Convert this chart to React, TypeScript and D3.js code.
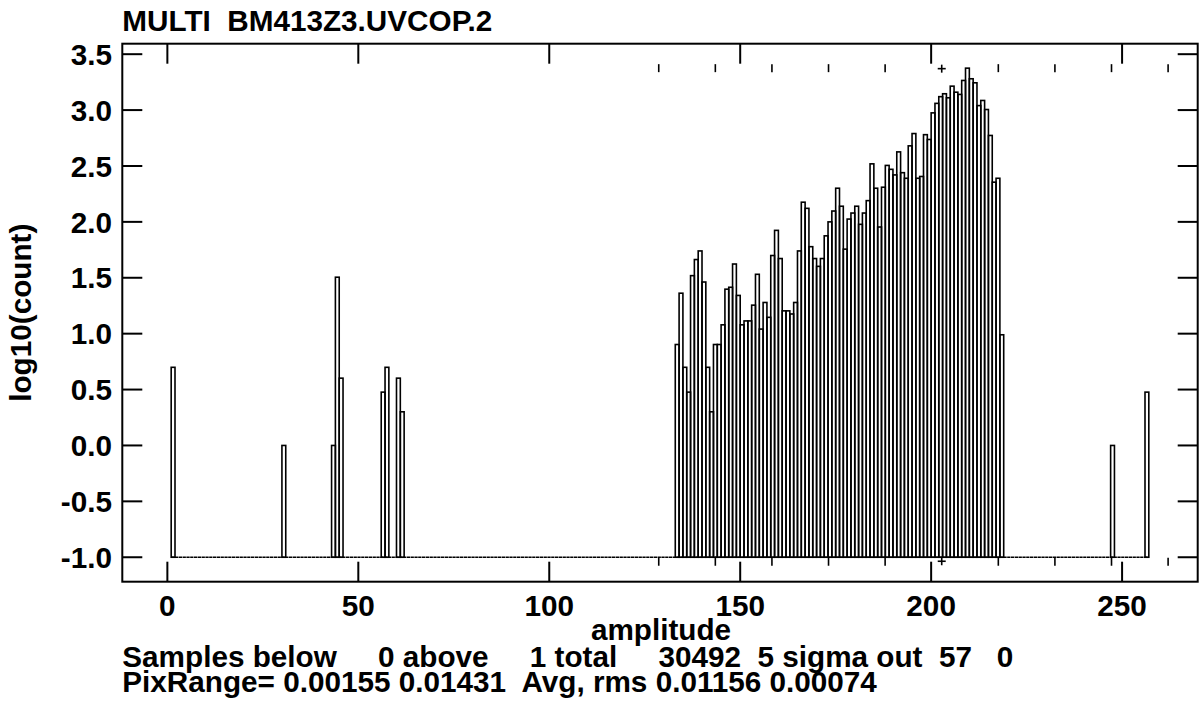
import React from "react";
import * as d3 from "d3";

// ---- data ----
const binIndex = [
  1, 30, 43, 44, 45, 56, 57, 60, 61,
  133, 134, 135, 136, 137, 138, 139, 140, 141, 142, 143, 144, 145, 146, 147, 148, 149,
  150, 151, 152, 153, 154, 155, 156, 157, 158, 159, 160, 161, 162, 163, 164, 165, 166,
  167, 168, 169, 170, 171, 172, 173, 174, 175, 176, 177, 178, 179, 180, 181, 182, 183,
  184, 185, 186, 187, 188, 189, 190, 191, 192, 193, 194, 195, 196, 197, 198, 199, 200,
  201, 202, 203, 204, 205, 206, 207, 208, 209, 210, 211, 212, 213, 214, 215, 216, 217,
  218, 247, 256,
];
const logCount = [
  0.699, 0.0, 0.0, 1.505, 0.602, 0.477, 0.699, 0.602, 0.301,
  0.903, 1.362, 0.699, 0.477, 1.519, 1.663, 1.74, 1.462, 0.699, 0.301, 0.903, 0.903, 1.079, 1.398, 1.415, 1.623, 1.342,
  1.079, 1.114, 1.114, 1.255, 1.531, 1.041, 1.279, 1.146, 1.699, 1.924, 1.672, 1.204, 1.204, 1.176, 1.279, 1.74, 2.176,
  2.121, 1.778, 1.672, 1.602, 1.672, 1.875, 2.0, 2.097, 2.301, 2.14, 1.756, 2.025, 2.079, 2.14, 1.978, 2.079, 2.19,
  2.519, 2.301, 1.954, 2.31, 2.505, 2.47, 2.42, 2.626, 2.44, 2.39, 2.68, 2.79, 2.39, 2.406, 2.78, 2.737, 2.975,
  3.06, 3.12, 3.146, 3.11, 3.214, 3.16, 3.14, 3.265, 3.375, 3.28, 3.244, 3.04, 3.086, 3.005, 2.773, 2.355, 2.39,
  0.99, 0.0, 0.477,
];
const firstBin = 1;
const lastBin = 256;
const floorValue = -1;
const meanAmp = 202.77;
const sigmaAmp = 14.82;
const sigmaSteps = [-5, -4, -3, -2, -1, 1, 2, 3, 4, 5];

const xTicks = [0, 50, 100, 150, 200, 250];
const yTicks = [-1, -0.5, 0, 0.5, 1, 1.5, 2, 2.5, 3, 3.5];

const titleText = "MULTI  BM413Z3.UVCOP.2";
const xLabel = "amplitude";
const yLabel = "log10(count)";
const statLine1 = "Samples below     0 above     1 total     30492  5 sigma out  57   0";
const statLine2 = "PixRange= 0.00155 0.01431  Avg, rms 0.01156 0.00074";

// ---- layout ----
const W = 1199;
const H = 715;
const L = 122.3;
const R = 1197.7;
const T = 43.7;
const B = 581.7;
const FONT = "'Liberation Sans', Arial, Helvetica, sans-serif";
const FS = 29.7;

export default function App() {
  const pad = (lastBin + 1 - firstBin) * 0.05;
  const x = d3.scaleLinear().domain([firstBin - pad, lastBin + 1 + pad]).range([L, R]);
  const maxV = d3.max(logCount) as number;
  const ypad = (maxV - floorValue) * 0.05;
  const y = d3.scaleLinear().domain([floorValue - ypad, maxV + ypad]).range([B, T]);

  const bars = binIndex.map((b, i) => ({ b, v: logCount[i] }));
  const y0 = y(floorValue);
  const yMax = y(maxV);

  const sigmaX = sigmaSteps
    .map((k) => meanAmp + k * sigmaAmp)
    .filter((v) => v >= x.domain()[0] && v <= x.domain()[1]);

  const tickLen = 20;

  return (
    <svg
      width={W}
      height={H}
      style={{ position: "absolute", left: 0, top: 0, background: "#fff" }}
      fontFamily={FONT}
      fontWeight="bold"
    >
      <rect x={0} y={0} width={W} height={H} fill="#fff" />
      {/* title */}
      <text x={L} y={31} fontSize={FS} style={{ whiteSpace: "pre" }}>
        {titleText}
      </text>

      {/* baseline for empty bins */}
      <line x1={x(firstBin)} x2={x(lastBin + 1)} y1={y0} y2={y0} stroke="#000" strokeWidth={1.6} strokeDasharray="3.3 0.5" />

      {/* histogram bars */}
      {bars.map(({ b, v }) => (
        <rect
          key={b}
          x={x(b)}
          width={x(b + 1) - x(b)}
          y={y(v)}
          height={y0 - y(v)}
          fill="none"
          stroke="#000"
          strokeWidth={1.6}
        />
      ))}

      {/* sigma markers */}
      {sigmaX.map((v) => (
        <g key={v}>
          <line x1={x(v)} x2={x(v)} y1={yMax - 4} y2={yMax + 4} stroke="#000" strokeWidth={1.6} />
          <line x1={x(v)} x2={x(v)} y1={y0 + 0.5} y2={y0 + 8.5} stroke="#000" strokeWidth={1.6} />
        </g>
      ))}
      <g stroke="#000" strokeWidth={1.6}>
        <line x1={x(meanAmp) - 4} x2={x(meanAmp) + 4} y1={yMax + 0.5} y2={yMax + 0.5} />
        <line x1={x(meanAmp)} x2={x(meanAmp)} y1={yMax - 3.5} y2={yMax + 4.5} />
        <line x1={x(meanAmp) - 4} x2={x(meanAmp) + 4} y1={y0 + 4} y2={y0 + 4} />
        <line x1={x(meanAmp)} x2={x(meanAmp)} y1={y0} y2={y0 + 8} />
      </g>

      {/* frame */}
      <rect x={L} y={T} width={R - L} height={B - T} fill="none" stroke="#000" strokeWidth={2} />

      {/* x ticks */}
      {xTicks.map((t) => (
        <g key={"x" + t}>
          <line x1={x(t)} x2={x(t)} y1={B} y2={B - tickLen} stroke="#000" strokeWidth={2} />
          <line x1={x(t)} x2={x(t)} y1={T} y2={T + tickLen} stroke="#000" strokeWidth={2} />
          <text x={x(t)} y={616} fontSize={FS} textAnchor="middle">
            {String(t)}
          </text>
        </g>
      ))}

      {/* y ticks */}
      {yTicks.map((t) => (
        <g key={"y" + t}>
          <line x1={L} x2={L + tickLen} y1={y(t)} y2={y(t)} stroke="#000" strokeWidth={2} />
          <line x1={R} x2={R - tickLen} y1={y(t)} y2={y(t)} stroke="#000" strokeWidth={2} />
          <text x={112} y={y(t)} dy="0.36em" fontSize={FS} textAnchor="end">
            {t.toFixed(1)}
          </text>
        </g>
      ))}

      {/* axis labels */}
      <text x={661} y={640} fontSize={FS} textAnchor="middle">
        {xLabel}
      </text>
      <text transform={`translate(31, ${(T + B) / 2}) rotate(-90)`} fontSize={FS} textAnchor="middle">
        {yLabel}
      </text>

      {/* stats lines */}
      <text x={L} y={667} fontSize={FS} style={{ whiteSpace: "pre" }}>
        {statLine1}
      </text>
      <text x={L} y={692} fontSize={FS} style={{ whiteSpace: "pre" }}>
        {statLine2}
      </text>
    </svg>
  );
}
